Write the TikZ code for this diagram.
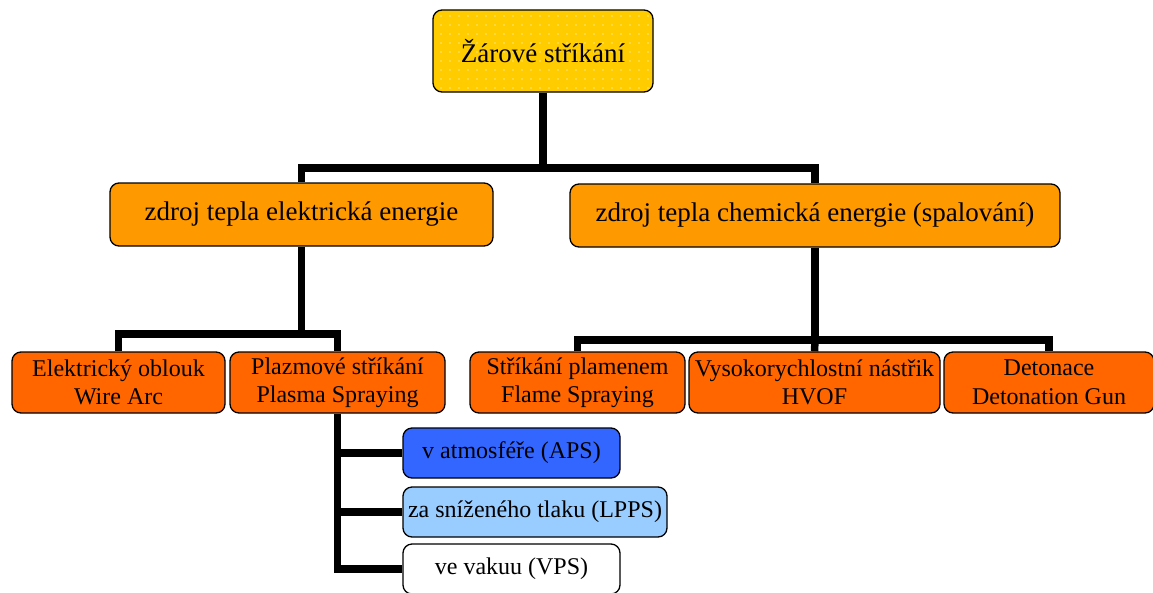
\documentclass[tikz,border=0pt]{standalone}
\usepackage{fontspec}
\setmainfont{Liberation Serif}
\usetikzlibrary{patterns.meta}
\definecolor{cgold}{HTML}{FFCC00}
\definecolor{corangeA}{HTML}{FF9900}
\definecolor{corangeB}{HTML}{FF6600}
\definecolor{cblueA}{HTML}{3366FF}
\definecolor{cblueB}{HTML}{99CCFF}
\tikzdeclarepattern{
  name=sparsedots,
  type=uncolored,
  bounding box={(-4.5pt,-4.5pt) and (4.5pt,4.5pt)},
  tile size={(9pt,9pt)},
  code={\fill (0pt,0pt) circle (0.8pt);}
}
\begin{document}
\begin{tikzpicture}[x=1pt,y=-1pt,
  box/.style={draw=black, line width=1.3pt, rounded corners=9pt, align=center,
    inner sep=0pt, text=black},
  topbox/.style={box, fill=cgold, minimum width=220pt, minimum height=82pt,
    font=\fontsize{27}{30}\selectfont,
    postaction={pattern=sparsedots, pattern color=white!50!cgold}},
  secbox/.style={box, fill=corangeA, minimum height=63pt,
    font=\fontsize{27}{30}\selectfont},
  thirdbox/.style={box, fill=corangeB, minimum height=61pt,
    font=\fontsize{24}{28.5}\selectfont},
  subbox/.style={box, minimum height=50pt, font=\fontsize{24}{28}\selectfont},
  conn/.style={line width=7.5pt, line join=miter}
]
\useasboundingbox (0,0) rectangle (1153,592);

% nodes
\node[topbox] (top) at (543,51) {Žárové stříkání};
\node[secbox, minimum width=383pt] (el) at (301.5,214.5) {zdroj tepla elektrická energie};
\node[secbox, minimum width=490pt] (ch) at (815,215.5) {zdroj tepla chemická energie (spalování)};

\node[thirdbox, minimum width=213pt] (arc) at (118.5,382.5) {Elektrický oblouk\\Wire Arc};
\node[thirdbox, minimum width=215pt] (pla) at (337.5,382.5) {Plazmové stříkání\\Plasma Spraying};
\node[thirdbox, minimum width=215pt] (fla) at (577.5,382.5) {Stříkání plamenem\\Flame Spraying};
\node[thirdbox, minimum width=251pt] (hvof) at (814.5,382.5) {Vysokorychlostní nástřik\\HVOF};
\node[thirdbox, minimum width=210pt] (det) at (1049,382.5) {Detonace\\Detonation Gun};

\node[subbox, fill=cblueA, minimum width=217pt] (aps) at (511.5,453) {v atmosféře (APS)};
\node[subbox, fill=cblueB, minimum width=264pt] (lpps) at (535,512) {za sníženého tlaku (LPPS)};
\node[subbox, fill=white, minimum width=217pt] (vps) at (511.5,569) {ve vakuu (VPS)};

% junctions
\coordinate (j1) at (543,168);
\coordinate (j2) at (301.5,334);
\coordinate (j3) at (815,340);

% connectors
\draw[conn] (top.south) -- (j1);
\draw[conn] (el.north) |- (j1) -| (ch.north);
\draw[conn] (el.south) -- (j2);
\draw[conn] (arc.north) |- (j2) -| (pla.north);
\draw[conn] (ch.south) -- (j3);
\draw[conn] (fla.north) |- (j3) -| (det.north);
\draw[conn] (j3) -- (hvof.north);
\draw[conn] (pla.south) |- (vps.west);
\draw[conn] (aps.west) -| (pla.south);
\draw[conn] (lpps.west) -| (pla.south);
\end{tikzpicture}
\end{document}
